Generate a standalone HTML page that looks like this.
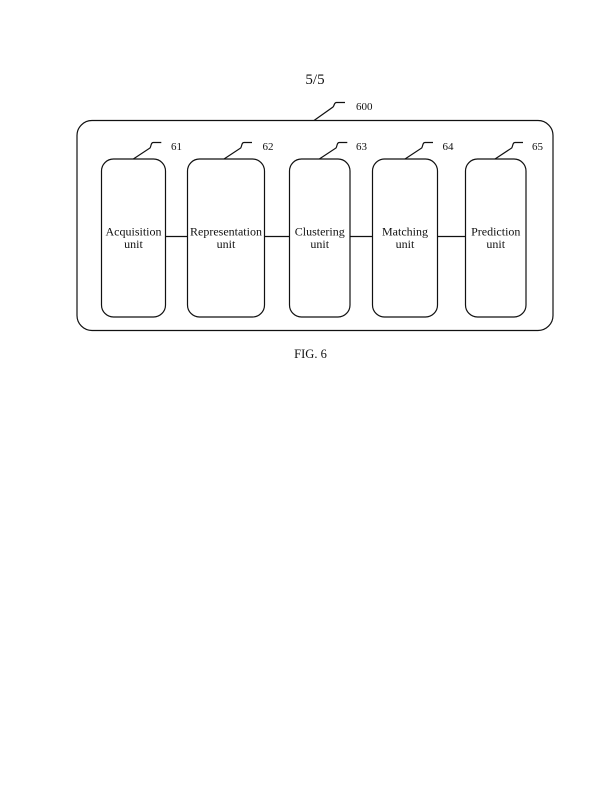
<!DOCTYPE html>
<html>
<head>
<meta charset="utf-8">
<style>
  html, body { margin: 0; padding: 0; background: #fff; }
  svg { display: block; }
  text { font-family: "Liberation Serif", "Times New Roman", serif; fill: #111; }
</style>
</head>
<body>
<svg width="600" height="800" viewBox="0 0 600 800" xmlns="http://www.w3.org/2000/svg">
  <rect x="0" y="0" width="600" height="800" fill="#fff"/>

  <text x="315" y="84" font-size="15" text-anchor="middle">5/5</text>

  <g fill="none" stroke="#111" stroke-width="1.2">
    <!-- outer container -->
    <rect x="77" y="120.5" width="476" height="210" rx="15" ry="15"/>

    <!-- 600 leader -->
    <path d="M314 120.5 L333 107 C334.5 105.5 334 102.5 336.5 102.5 L345 102.5"/>

    <!-- unit boxes -->
    <rect x="101.5" y="159" width="64" height="158" rx="12" ry="12"/>
    <rect x="187.5" y="159" width="77" height="158" rx="12" ry="12"/>
    <rect x="289.5" y="159" width="60.5" height="158" rx="12" ry="12"/>
    <rect x="372.5" y="159" width="65" height="158" rx="12" ry="12"/>
    <rect x="465.5" y="159" width="60.5" height="158" rx="12" ry="12"/>

    <!-- connectors -->
    <line x1="165.5" y1="236.5" x2="187.5" y2="236.5"/>
    <line x1="264.5" y1="236.5" x2="289.5" y2="236.5"/>
    <line x1="350" y1="236.5" x2="372.5" y2="236.5"/>
    <line x1="437.5" y1="236.5" x2="465.5" y2="236.5"/>

    <!-- leaders -->
    <path d="M133.3 159 L150 148 C151.3 146 150.8 142.5 153.3 142.5 L161.3 142.5"/>
    <path d="M224 159 L240.7 148 C242 146 241.5 142.5 244 142.5 L252 142.5"/>
    <path d="M319.3 159 L336 148 C337.3 146 336.8 142.5 339.3 142.5 L347.3 142.5"/>
    <path d="M405 159 L421.7 148 C423 146 422.5 142.5 425 142.5 L433 142.5"/>
    <path d="M495 159 L511.7 148 C513 146 512.5 142.5 515 142.5 L523 142.5"/>
  </g>

  <!-- reference labels -->
  <text x="356" y="110" font-size="11">600</text>
  <text x="171" y="150" font-size="11">61</text>
  <text x="262.5" y="150" font-size="11">62</text>
  <text x="356" y="150" font-size="11">63</text>
  <text x="442.5" y="150" font-size="11">64</text>
  <text x="532" y="150" font-size="11">65</text>

  <!-- box labels -->
  <g font-size="12" text-anchor="middle">
    <text x="133.5" y="235.5">Acquisition</text>
    <text x="133.5" y="248">unit</text>
    <text x="226" y="235.5">Representation</text>
    <text x="226" y="248">unit</text>
    <text x="319.75" y="235.5">Clustering</text>
    <text x="319.75" y="248">unit</text>
    <text x="405" y="235.5">Matching</text>
    <text x="405" y="248">unit</text>
    <text x="495.75" y="235.5">Prediction</text>
    <text x="495.75" y="248">unit</text>
  </g>

  <text x="310.5" y="358" font-size="12.5" text-anchor="middle">FIG. 6</text>
</svg>
</body>
</html>
